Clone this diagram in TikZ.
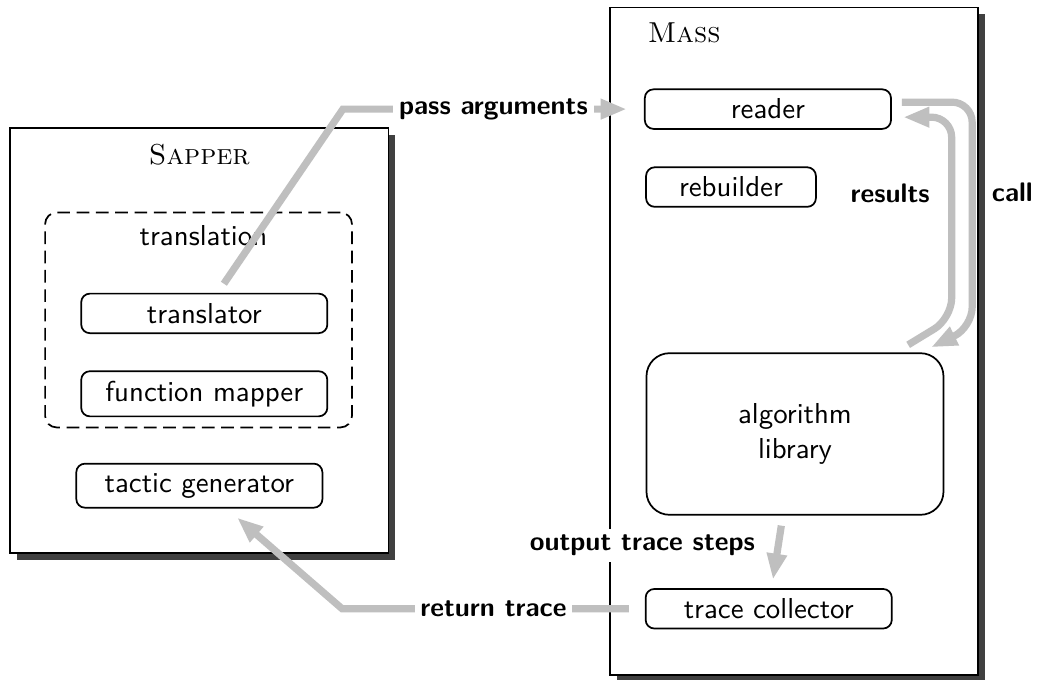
\documentclass[tikz,border=0pt]{standalone}
\usepackage{tikz}
\usetikzlibrary{arrows.meta}
\usetikzlibrary{shadows}

\begin{document}
\begin{tikzpicture}[
  font=\sffamily,semithick,
  module/.style={draw,rectangle,fill=white,drop shadow={shadow xshift=2.3pt,shadow yshift=-2.3pt,fill=black!75,opacity=1}},
  part/.style={draw,rectangle,rounded corners=3pt,minimum width=3cm},
  group/.style={draw,rectangle,rounded corners=4pt,dash pattern=on 4.4pt off 2.3pt},
  title/.style={font=\rmfamily\scshape},
  flow/.style={draw=black!25,line width=2.5pt,-{Triangle[length=9pt,width=6.6pt]}},
  tag/.style={fill=white,font=\sffamily\bfseries\fontsize{9.3}{11}\selectfont,inner sep=2pt}]

  \useasboundingbox (0,0) rectangle (12.64,8.28);

  % Sapper side
  \node [module,minimum width=4.61cm,minimum height=5.18cm] (sapper) at (2.43,4.13) {};
  \node [title] (sappername) at (2.43,6.39) {Sapper};
  \node [group,minimum width=3.74cm,minimum height=2.62cm] (translation) at (2.42,4.38) {};
  \node (translationname) at (2.48,5.41) {translation};
  \node [part] (translator) at (2.49,4.46) {translator};
  \node [part] (mapper) at (2.49,3.48) {function mapper};
  \node [part] (tactic) at (2.43,2.36) {tactic generator};

  % Mass side
  \node [module,minimum width=4.49cm,minimum height=8.14cm] (mass) at (9.68,4.12) {};
  \node [title,anchor=west] (massname) at (7.77,7.88) {Mass};
  \node [part] (reader) at (9.36,6.95) {reader};
  \node [part,minimum width=2.07cm] (rebuilder) at (8.91,6.00) {rebuilder};
  \node [part,rounded corners=8pt,minimum width=3.62cm,minimum height=1.97cm,align=center] (algo) at (9.69,2.99) {algorithm\\library};
  \node [part] (collector) at (9.37,0.86) {trace collector};

  % bends of the arrows
  \coordinate (passbend) at (4.18,6.95);
  \coordinate (returnbend) at (4.17,0.86);
  \coordinate (calltop) at (11.85,7.035);
  \coordinate (calldown) at (11.85,4.29);
  \coordinate (resultsdown) at (11.60,4.40);
  \coordinate (resultstop) at (11.60,6.852);

  \draw [flow,shorten <=3.8pt,shorten >=6pt] (translator.57) -- (passbend) -- node [tag] {pass arguments} (reader.west);
  \draw [flow,rounded corners=7pt,shorten <=3.5pt,shorten >=4pt] ([yshift=2.4pt]reader.east) -- (calltop) -- (calldown) -- (algo.33);
  \draw [flow,rounded corners=7pt,shorten <=5pt,shorten >=4pt] (algo.39) -- (resultsdown) -- (resultstop) -- ([yshift=-2.8pt]reader.east);
  \draw [flow,shorten <=3.5pt,shorten >=3pt] ([xshift=-4.2pt]algo.south) -- ([xshift=1pt]collector.north);
  \draw [flow,shorten <=5.5pt,shorten >=4.8pt] (collector.west) -- node [tag] {return trace} (returnbend) -- (tactic.320);

  % labels
  \node [tag] (results) at (10.85,5.92) {results};
  \node [tag] (call) at (12.34,5.94) {call};
  \node [tag] (steps) at (7.83,1.63) {output trace steps};
\end{tikzpicture}
\end{document}
